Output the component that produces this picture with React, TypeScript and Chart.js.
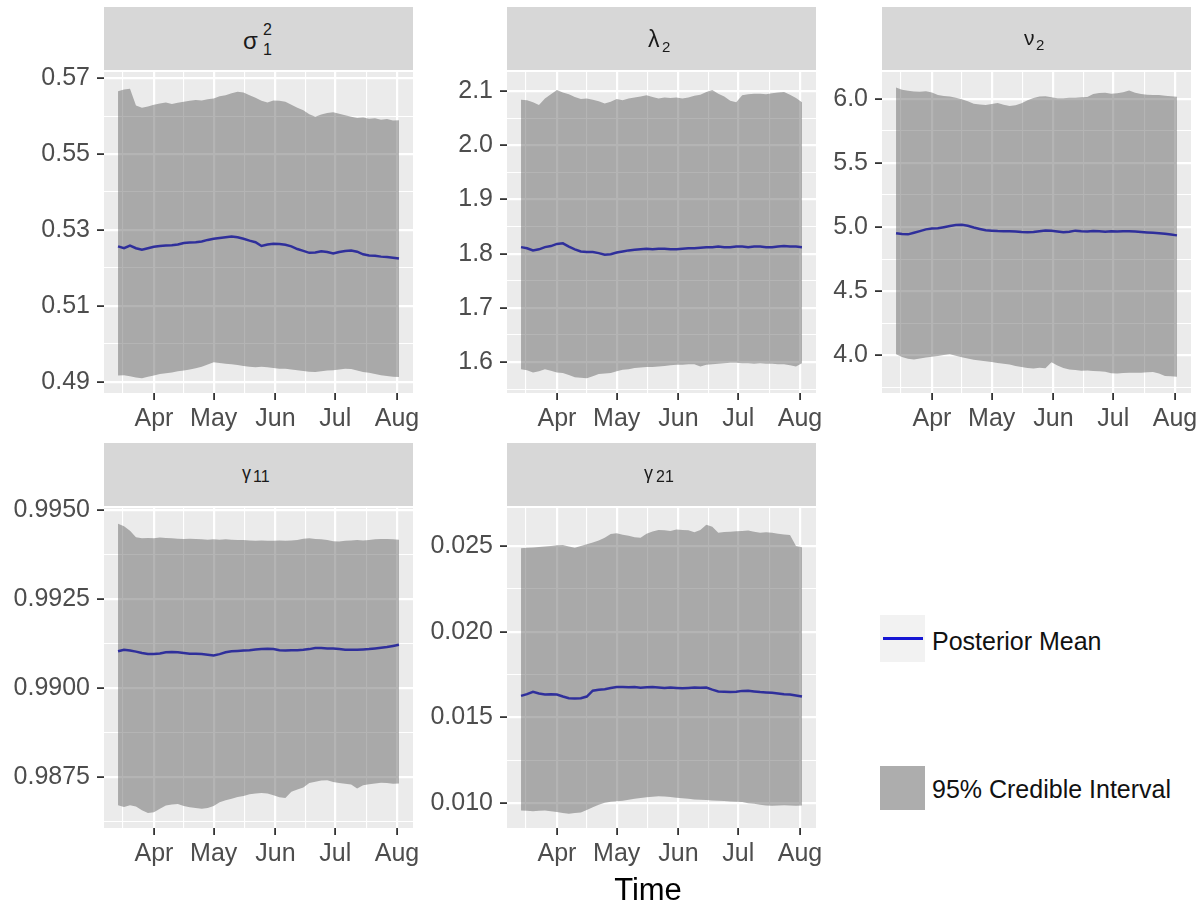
import React, { useEffect, useRef } from "react";
import { Chart, registerables } from "chart.js";

Chart.register(...registerables);

// ---- x axis: days counted from 1 March ----
const DAYS = [13, 16, 19, 22, 25, 28, 31, 34, 37, 40, 43, 46, 49, 52, 55, 58, 61, 64, 67, 70, 73, 76, 79, 82, 85, 88, 91, 94, 97, 100, 103, 106, 109, 112, 115, 118, 121, 124, 127, 130, 133, 136, 139, 142, 145, 148, 151, 154];
const MONTH_TICKS = [31, 61, 92, 122, 153];
const MONTH_LABELS = ["Apr", "May", "Jun", "Jul", "Aug"];
const MONTH_MINOR = [15.5, 46, 76.5, 107, 137.5];
const X_RANGE = [5.95, 161.05];

// ---- sigma_1^2 ----
const SIGMA_MEAN = [0.5257, 0.5252, 0.5259, 0.5252, 0.5248, 0.5252, 0.5256, 0.5258, 0.5259, 0.526, 0.5262, 0.5266, 0.5267, 0.5268, 0.527, 0.5274, 0.5277, 0.5279, 0.5281, 0.5283, 0.5281, 0.5277, 0.5272, 0.5268, 0.5258, 0.5262, 0.5264, 0.5263, 0.5261, 0.5257, 0.525, 0.5245, 0.524, 0.5241, 0.5244, 0.5242, 0.5238, 0.5242, 0.5245, 0.5246, 0.5243, 0.5236, 0.5233, 0.5232, 0.523, 0.5229, 0.5227, 0.5225];
const SIGMA_LO = [0.4917, 0.4918, 0.4915, 0.4912, 0.491, 0.4914, 0.4917, 0.4921, 0.4923, 0.4925, 0.4928, 0.493, 0.4933, 0.4936, 0.494, 0.4946, 0.4952, 0.495, 0.4948, 0.4947, 0.4945, 0.4942, 0.494, 0.4939, 0.494, 0.4939, 0.4937, 0.4935, 0.4935, 0.4933, 0.4931, 0.4929, 0.4927, 0.4926, 0.4928, 0.493, 0.4931, 0.4933, 0.4935, 0.4934, 0.493, 0.4926, 0.4924, 0.4921, 0.4918, 0.4916, 0.4914, 0.4913];
const SIGMA_HI = [0.5665, 0.567, 0.5672, 0.5628, 0.5622, 0.5625, 0.563, 0.5633, 0.5636, 0.5632, 0.5635, 0.5638, 0.564, 0.5642, 0.5641, 0.5644, 0.5646, 0.5652, 0.5655, 0.566, 0.5664, 0.5662, 0.5655, 0.5648, 0.564, 0.5636, 0.5641, 0.564, 0.5638, 0.563, 0.5622, 0.5615, 0.5605, 0.5598, 0.5604, 0.5608, 0.561, 0.5606, 0.5602, 0.5598, 0.5595, 0.5596, 0.5593, 0.5594, 0.559, 0.5592, 0.5588, 0.5589];
const SIGMA_TICKS = [0.49, 0.51, 0.53, 0.55, 0.57];
const SIGMA_LABELS = ["0.49", "0.51", "0.53", "0.55", "0.57"];
const SIGMA_MINOR = [0.5, 0.52, 0.54, 0.56];
const SIGMA_RANGE = [0.4871, 0.5716];

// ---- lambda_2 ----
const LAMBDA_MEAN = [1.812, 1.81, 1.806, 1.808, 1.812, 1.814, 1.818, 1.819, 1.813, 1.808, 1.804, 1.803, 1.803, 1.801, 1.798, 1.799, 1.802, 1.804, 1.806, 1.807, 1.808, 1.809, 1.808, 1.809, 1.809, 1.808, 1.808, 1.809, 1.81, 1.81, 1.811, 1.812, 1.812, 1.813, 1.812, 1.812, 1.813, 1.813, 1.812, 1.813, 1.813, 1.812, 1.812, 1.813, 1.814, 1.813, 1.813, 1.812];
const LAMBDA_LO = [1.587, 1.585, 1.581, 1.583, 1.587, 1.584, 1.581, 1.58, 1.576, 1.572, 1.571, 1.57, 1.574, 1.578, 1.579, 1.58, 1.583, 1.586, 1.587, 1.589, 1.59, 1.591, 1.591, 1.592, 1.593, 1.594, 1.595, 1.595, 1.596, 1.596, 1.592, 1.595, 1.596, 1.597, 1.598, 1.599, 1.599, 1.598, 1.598, 1.597, 1.598, 1.597, 1.597, 1.596, 1.596, 1.594, 1.592, 1.598];
const LAMBDA_HI = [2.084, 2.083, 2.079, 2.074, 2.086, 2.094, 2.102, 2.097, 2.094, 2.089, 2.085, 2.086, 2.084, 2.081, 2.077, 2.08, 2.085, 2.083, 2.086, 2.088, 2.09, 2.092, 2.089, 2.086, 2.088, 2.087, 2.088, 2.086, 2.088, 2.091, 2.093, 2.098, 2.102, 2.095, 2.09, 2.082, 2.079, 2.092, 2.094, 2.095, 2.095, 2.094, 2.096, 2.097, 2.098, 2.093, 2.087, 2.079];
const LAMBDA_TICKS = [1.6, 1.7, 1.8, 1.9, 2.0, 2.1];
const LAMBDA_LABELS = ["1.6", "1.7", "1.8", "1.9", "2.0", "2.1"];
const LAMBDA_MINOR = [1.55, 1.65, 1.75, 1.85, 1.95, 2.05];
const LAMBDA_RANGE = [1.543, 2.135];

// ---- nu_2 ----
const NU_MEAN = [4.952, 4.946, 4.943, 4.955, 4.968, 4.982, 4.988, 4.99, 4.999, 5.008, 5.016, 5.017, 5.01, 4.996, 4.985, 4.975, 4.972, 4.969, 4.968, 4.967, 4.966, 4.962, 4.96, 4.962, 4.968, 4.974, 4.972, 4.966, 4.96, 4.964, 4.972, 4.968, 4.966, 4.97, 4.968, 4.964, 4.967, 4.966, 4.967, 4.968, 4.965, 4.962, 4.958, 4.955, 4.952, 4.948, 4.942, 4.935];
const NU_LO = [4.008, 3.985, 3.972, 3.966, 3.975, 3.982, 3.987, 3.993, 4.002, 4.008, 3.995, 3.984, 3.975, 3.964, 3.958, 3.952, 3.946, 3.94, 3.934, 3.927, 3.915, 3.907, 3.9, 3.896, 3.902, 3.899, 3.945, 3.92, 3.9, 3.888, 3.884, 3.878, 3.88, 3.877, 3.874, 3.871, 3.86, 3.858, 3.862, 3.863, 3.864, 3.863, 3.866, 3.868, 3.858, 3.838, 3.836, 3.832];
const NU_HI = [6.09, 6.072, 6.063, 6.058, 6.055, 6.06, 6.05, 6.03, 6.022, 6.018, 6.01, 5.998, 5.982, 5.962, 5.956, 5.952, 5.96, 5.968, 5.955, 5.944, 5.95, 5.966, 5.99, 6.008, 6.018, 6.021, 6.012, 6.005, 6.006, 6.01, 6.009, 6.012, 6.015, 6.038, 6.046, 6.048, 6.04, 6.044, 6.052, 6.066, 6.048, 6.038, 6.032, 6.031, 6.03, 6.025, 6.02, 6.017];
const NU_TICKS = [4.0, 4.5, 5.0, 5.5, 6.0];
const NU_LABELS = ["4.0", "4.5", "5.0", "5.5", "6.0"];
const NU_MINOR = [3.75, 4.25, 4.75, 5.25, 5.75];
const NU_RANGE = [3.705, 6.21];

// ---- gamma_11 ----
const G11_MEAN = [0.99104, 0.99108, 0.99106, 0.99103, 0.99099, 0.99096, 0.99096, 0.99098, 0.99101, 0.99102, 0.99101, 0.99099, 0.99097, 0.99097, 0.99096, 0.99094, 0.99092, 0.99096, 0.99101, 0.99104, 0.99105, 0.99106, 0.99107, 0.99109, 0.9911, 0.99111, 0.9911, 0.99107, 0.99106, 0.99107, 0.99107, 0.99108, 0.9911, 0.99113, 0.99113, 0.99112, 0.99112, 0.9911, 0.99108, 0.99108, 0.99108, 0.99109, 0.9911, 0.99112, 0.99114, 0.99116, 0.99119, 0.99122];
const G11_LO = [0.98672, 0.98667, 0.98672, 0.98668, 0.98658, 0.9865, 0.98652, 0.98662, 0.98671, 0.98674, 0.98675, 0.9867, 0.98666, 0.98664, 0.98662, 0.98664, 0.9867, 0.9868, 0.98686, 0.9869, 0.98695, 0.98698, 0.98703, 0.98705, 0.98706, 0.98705, 0.987, 0.98694, 0.98692, 0.9871, 0.98716, 0.98722, 0.98734, 0.98738, 0.98741, 0.98742, 0.98737, 0.98734, 0.98732, 0.9873, 0.98719, 0.98728, 0.98731, 0.98733, 0.98735, 0.98734, 0.98732, 0.98733];
const G11_HI = [0.99462, 0.99455, 0.99442, 0.99424, 0.99421, 0.99422, 0.99421, 0.99423, 0.99422, 0.99421, 0.9942, 0.99419, 0.9942, 0.99419, 0.99418, 0.99417, 0.99418, 0.99417, 0.99418, 0.99417, 0.99416, 0.99416, 0.99415, 0.99414, 0.99415, 0.99414, 0.99414, 0.99415, 0.99414, 0.99415, 0.99416, 0.9942, 0.99421, 0.99419, 0.99418, 0.99416, 0.99413, 0.99412, 0.99414, 0.99415, 0.99416, 0.99415, 0.99416, 0.99418, 0.99419, 0.99419, 0.99418, 0.99417];
const G11_TICKS = [0.9875, 0.99, 0.9925, 0.995];
const G11_LABELS = ["0.9875", "0.9900", "0.9925", "0.9950"];
const G11_MINOR = [0.98625, 0.98875, 0.99125, 0.99375];
const G11_RANGE = [0.98608, 0.99506];

// ---- gamma_21 ----
const G21_MEAN = [0.01626, 0.01636, 0.0165, 0.0164, 0.01634, 0.01636, 0.01634, 0.01622, 0.01612, 0.0161, 0.01612, 0.01622, 0.01656, 0.01662, 0.01665, 0.01672, 0.01678, 0.01677, 0.01676, 0.01678, 0.01674, 0.01676, 0.01678, 0.01675, 0.01672, 0.01674, 0.01672, 0.0167, 0.01672, 0.01674, 0.01673, 0.01674, 0.01662, 0.01652, 0.0165, 0.01648, 0.0165, 0.01655, 0.01656, 0.01652, 0.01648, 0.01646, 0.01644, 0.0164, 0.01636, 0.01634, 0.01628, 0.01622];
const G21_LO = [0.00957, 0.00955, 0.00953, 0.00956, 0.00957, 0.00952, 0.00948, 0.00942, 0.00938, 0.00942, 0.00946, 0.0096, 0.00976, 0.0099, 0.01003, 0.01008, 0.01011, 0.01014, 0.0102, 0.01026, 0.0103, 0.01035, 0.01038, 0.0104, 0.01039, 0.01036, 0.01032, 0.01028, 0.01025, 0.01022, 0.0102, 0.01018, 0.01015, 0.01014, 0.01012, 0.0101, 0.01008, 0.01006, 0.01, 0.00996, 0.0099, 0.00986, 0.00985, 0.00987, 0.00988, 0.00986, 0.00985, 0.00986];
const G21_HI = [0.02487, 0.0249, 0.02492, 0.02495, 0.02497, 0.025, 0.02504, 0.02506, 0.02498, 0.0249, 0.025, 0.0251, 0.0252, 0.02532, 0.02548, 0.0257, 0.02574, 0.02566, 0.0256, 0.02552, 0.02548, 0.02572, 0.02585, 0.02594, 0.02592, 0.02588, 0.02596, 0.02594, 0.02592, 0.0258, 0.02594, 0.02625, 0.02612, 0.02578, 0.02582, 0.02584, 0.02586, 0.02588, 0.0259, 0.02584, 0.02578, 0.0258, 0.02578, 0.02572, 0.02568, 0.02565, 0.025, 0.02493];
const G21_TICKS = [0.01, 0.015, 0.02, 0.025];
const G21_LABELS = ["0.010", "0.015", "0.020", "0.025"];
const G21_MINOR = [0.0125, 0.0175, 0.0225];
const G21_RANGE = [0.00855, 0.02722];

// ---- styling ----
const FONT = "'Liberation Sans', Arial, Helvetica, sans-serif";
const RIBBON = "rgba(80, 80, 80, 0.43)";
const MEAN_COLOR = "#1616d4";
const PANEL_BG = "#EBEBEB";
const STRIP_BG = "#D7D7D7";
const TICK_TEXT = "#4D4D4D";
const TICK_MARK = "#333333";
const TICK_FONT_SIZE = 25;

const AXIS_W = 100; // room for y tick labels
const AXIS_H = 52; // room for x tick labels
const PAD_T = 20;
const PAD_R = 30;
const PANEL_W = 309;
const STRIP_H = 63;

type Tick = { value: number; label: string; major: boolean };

function mergeTicks(major: number[], labels: string[], minor: number[]): Tick[] {
  return [
    ...major.map((v, i) => ({ value: v, label: labels[i], major: true })),
    ...minor.map((v) => ({ value: v, label: "", major: false })),
  ].sort((a, b) => a.value - b.value);
}

const panelBackground = {
  id: "panelBackground",
  beforeDraw(chart: Chart) {
    const { ctx, chartArea: a } = chart;
    ctx.save();
    ctx.fillStyle = PANEL_BG;
    ctx.fillRect(a.left, a.top, a.right - a.left, a.bottom - a.top);
    ctx.restore();
  },
};

function axisOptions(ticks: Tick[], range: number[], isX: boolean) {
  return {
    type: "linear" as const,
    min: range[0],
    max: range[1],
    afterBuildTicks: (s: any) => {
      s.ticks = ticks.map((t) => ({ value: t.value }));
    },
    afterFit: (s: any) => {
      if (isX) s.height = AXIS_H;
      else s.width = AXIS_W;
    },
    border: { display: false },
    grid: {
      color: "#FFFFFF",
      lineWidth: (c: any) => (ticks[c.index] && ticks[c.index].major ? 2.2 : 1.1),
      drawTicks: true,
      tickLength: 7,
      tickWidth: 1.8,
      tickColor: (c: any) => (ticks[c.index] && ticks[c.index].major ? TICK_MARK : "rgba(0,0,0,0)"),
    },
    ticks: {
      autoSkip: false,
      maxRotation: 0,
      minRotation: 0,
      padding: isX ? 4 : 7,
      color: TICK_TEXT,
      font: { family: FONT, size: TICK_FONT_SIZE },
      callback: (_v: any, i: number) => (ticks[i] ? ticks[i].label : ""),
    },
  };
}

type PanelProps = {
  left: number;
  top: number;
  height: number;
  lo: number[];
  hi: number[];
  mean: number[];
  yTicks: number[];
  yLabels: string[];
  yMinor: number[];
  yRange: number[];
};

function Panel(p: PanelProps) {
  const ref = useRef<HTMLCanvasElement>(null);
  useEffect(() => {
    if (!ref.current) return;
    const yTicks = mergeTicks(p.yTicks, p.yLabels, p.yMinor);
    const xTicks = mergeTicks(MONTH_TICKS, MONTH_LABELS, MONTH_MINOR);
    const chart = new Chart(ref.current, {
      type: "line",
      data: {
        datasets: [
          {
            label: "lower",
            data: DAYS.map((d, i) => ({ x: d, y: p.lo[i] })),
            borderWidth: 0,
            borderColor: "rgba(0,0,0,0)",
            pointRadius: 0,
            fill: false,
          },
          {
            label: "95% Credible Interval",
            data: DAYS.map((d, i) => ({ x: d, y: p.hi[i] })),
            borderWidth: 0,
            borderColor: "rgba(0,0,0,0)",
            backgroundColor: RIBBON,
            pointRadius: 0,
            fill: "-1",
          },
          {
            label: "Posterior Mean",
            data: DAYS.map((d, i) => ({ x: d, y: p.mean[i] })),
            borderWidth: 2.5,
            borderColor: MEAN_COLOR,
            pointRadius: 0,
            fill: false,
          },
        ],
      },
      options: {
        animation: false,
        responsive: false,
        events: [],
        layout: { padding: { top: PAD_T, right: PAD_R, left: 0, bottom: 0 } },
        plugins: { legend: { display: false }, tooltip: { enabled: false } },
        scales: {
          x: axisOptions(xTicks, X_RANGE, true) as any,
          y: axisOptions(yTicks, p.yRange, false) as any,
        },
      },
      plugins: [panelBackground],
    });
    return () => chart.destroy();
  }, []);
  return (
    <canvas
      ref={ref}
      width={AXIS_W + PANEL_W + PAD_R}
      height={PAD_T + p.height + AXIS_H}
      style={{ position: "absolute", left: p.left - AXIS_W, top: p.top - PAD_T }}
    />
  );
}

type Glyph = { text: string; size: number; x: number; y: number };

function Strip({ left, top, glyphs }: { left: number; top: number; glyphs: Glyph[] }) {
  return (
    <div
      style={{
        position: "absolute",
        left,
        top,
        width: PANEL_W,
        height: STRIP_H,
        background: STRIP_BG,
        fontFamily: FONT,
        color: "#1A1A1A",
      }}
    >
      {glyphs.map((g, i) => (
        <span
          key={i}
          style={{
            position: "absolute",
            left: g.x,
            top: g.y,
            fontSize: g.size,
            lineHeight: `${g.size}px`,
            whiteSpace: "nowrap",
          }}
        >
          {g.text}
        </span>
      ))}
    </div>
  );
}

export default function App() {
  const row1 = 70;
  const row2 = 506;
  return (
    <div
      style={{
        position: "absolute",
        left: 0,
        top: 0,
        width: 1204,
        height: 903,
        background: "#FFFFFF",
        overflow: "hidden",
        fontFamily: FONT,
      }}
    >
      <Panel left={104} top={row1} height={323} lo={SIGMA_LO} hi={SIGMA_HI} mean={SIGMA_MEAN} yTicks={SIGMA_TICKS} yLabels={SIGMA_LABELS} yMinor={SIGMA_MINOR} yRange={SIGMA_RANGE} />
      <Panel left={507} top={row1} height={323} lo={LAMBDA_LO} hi={LAMBDA_HI} mean={LAMBDA_MEAN} yTicks={LAMBDA_TICKS} yLabels={LAMBDA_LABELS} yMinor={LAMBDA_MINOR} yRange={LAMBDA_RANGE} />
      <Panel left={882} top={row1} height={323} lo={NU_LO} hi={NU_HI} mean={NU_MEAN} yTicks={NU_TICKS} yLabels={NU_LABELS} yMinor={NU_MINOR} yRange={NU_RANGE} />
      <Panel left={104} top={row2} height={322} lo={G11_LO} hi={G11_HI} mean={G11_MEAN} yTicks={G11_TICKS} yLabels={G11_LABELS} yMinor={G11_MINOR} yRange={G11_RANGE} />
      <Panel left={507} top={row2} height={322} lo={G21_LO} hi={G21_HI} mean={G21_MEAN} yTicks={G21_TICKS} yLabels={G21_LABELS} yMinor={G21_MINOR} yRange={G21_RANGE} />

      <Strip
        left={104}
        top={row1 - STRIP_H}
        glyphs={[
          { text: "σ", size: 24, x: 139, y: 21.7 },
          { text: "2", size: 16, x: 159, y: 14.5 },
          { text: "1", size: 16, x: 159, y: 34.5 },
        ]}
      />
      <Strip
        left={507}
        top={row1 - STRIP_H}
        glyphs={[
          { text: "λ", size: 23, x: 141, y: 20.5 },
          { text: "2", size: 15, x: 155, y: 32.3 },
        ]}
      />
      <Strip
        left={882}
        top={row1 - STRIP_H}
        glyphs={[
          { text: "ν", size: 21, x: 142, y: 20.2 },
          { text: "2", size: 15, x: 154, y: 30.3 },
        ]}
      />
      <Strip
        left={104}
        top={row2 - STRIP_H}
        glyphs={[
          { text: "γ", size: 18, x: 138, y: 21 },
          { text: "11", size: 16, x: 149, y: 25.5 },
        ]}
      />
      <Strip
        left={507}
        top={row2 - STRIP_H}
        glyphs={[
          { text: "γ", size: 18, x: 137, y: 21 },
          { text: "21", size: 16, x: 149, y: 25.5 },
        ]}
      />

      {/* x axis title */}
      <div
        style={{
          position: "absolute",
          left: 548,
          width: 200,
          top: 874,
          textAlign: "center",
          fontSize: 31,
          lineHeight: "31px",
          color: "#000",
        }}
      >
        Time
      </div>

      {/* legend */}
      <div style={{ position: "absolute", left: 880, top: 615, width: 45, height: 47, background: "#F2F2F2" }}>
        <div style={{ position: "absolute", left: 3, top: 22, width: 40, height: 3, background: MEAN_COLOR }} />
      </div>
      <div style={{ position: "absolute", left: 932, top: 629, fontSize: 25, lineHeight: "25px", color: "#111", whiteSpace: "nowrap" }}>
        Posterior Mean
      </div>
      <div style={{ position: "absolute", left: 880, top: 766, width: 45, height: 44, background: "#F2F2F2" }}>
        <div style={{ position: "absolute", inset: 0, background: RIBBON }} />
      </div>
      <div style={{ position: "absolute", left: 932, top: 777, fontSize: 25, lineHeight: "25px", color: "#111", whiteSpace: "nowrap" }}>
        95% Credible Interval
      </div>
    </div>
  );
}
